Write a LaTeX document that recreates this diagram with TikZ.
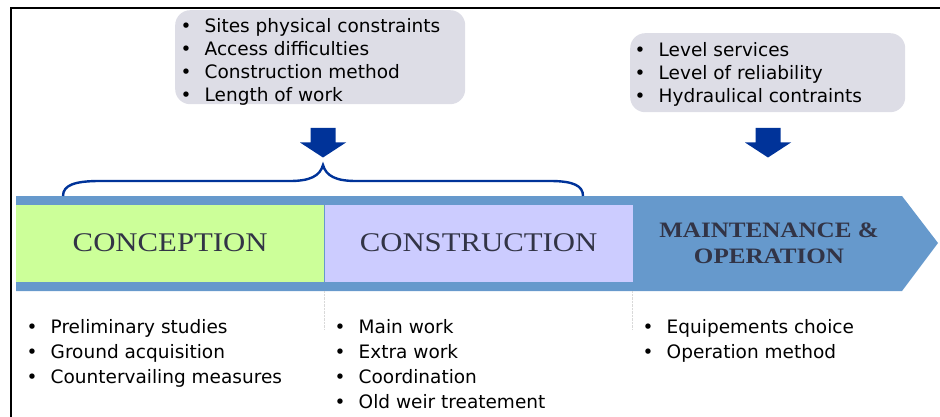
\documentclass[tikz,border=0pt]{standalone}
\usepackage{fontspec}
\setmainfont{Liberation Serif}
\newfontfamily\listfont{DejaVu Sans}
\usetikzlibrary{positioning}

\definecolor{bandblue}{RGB}{102,153,204}
\definecolor{concgreen}{RGB}{204,255,153}
\definecolor{conslav}{RGB}{204,204,255}
\definecolor{infogrey}{RGB}{221,221,230}
\definecolor{darkblue}{RGB}{0,51,153}
\definecolor{headgrey}{RGB}{50,52,70}

\newcommand\bul{\makebox[24pt][l]{\textbullet}}
\newcommand\wide[1]{\scalebox{1.14}[1]{#1}}

\tikzset{
  down arrow/.pic={
    \fill[darkblue] (-12.5,0) -- (12.5,0) -- (12.5,14.5) -- (23,14.5)
      -- (0,29.5) -- (-23,14.5) -- (-12.5,14.5) -- cycle;}
}

\begin{document}
\begin{tikzpicture}[x=1pt,y=-1pt,
 phase/.style={minimum width=308pt,minimum height=77pt,inner sep=0pt,
   font=\fontsize{27}{30}\selectfont,text=headgrey},
 item/.style={anchor=base west,inner sep=0pt,
   font=\listfont\fontsize{18.5}{20}\selectfont},
 info box/.style={fill=infogrey,rounded corners=15pt,anchor=north west,inner sep=0pt}]
 \useasboundingbox (0,0) rectangle (940,417);

 % frame
 \draw[line width=2pt] (11,417) -- (11,8) -- (940,8);

 % the band with its arrow head
 \fill[bandblue] (16,196) -- (902,196) -- (938,243) -- (902,291) -- (16,291) -- cycle;
 \node[phase,fill=concgreen,anchor=west](conc) at (16,243){\wide{CONCEPTION}};
 \node[phase,fill=conslav,right=0pt of conc](cons){\wide{CONSTRUCTION}};
 \node[phase,minimum width=272pt,right=0pt of cons,align=center,
   font=\bfseries\fontsize{22}{26}\selectfont](maint)
   {\wide{MAINTENANCE \&}\\\wide{OPERATION}};
 \foreach \x in {324,632}
   \draw[black!15,densely dotted] (\x,291) -- (\x,330);

 % constraints
 \node[info box,minimum width=290pt,minimum height=94pt](sites) at (175,10){};
 \node[info box,minimum width=275pt,minimum height=79pt](levels) at (630,33){};
 \foreach \t [count=\i] in {Sites physical constraints,Access difficulties,
     Construction method,Length of work}
   \node[item](s\i) at (180.5,{33+23*(\i-1)}){\bul\t};
 \foreach \t [count=\i] in {Level services,Level of reliability,
     Hydraulical contraints}
   \node[item](l\i) at (634.5,{57+23*(\i-1)}){\bul\t};

 \pic at (323,128) {down arrow};
 \pic at (768,128) {down arrow};

 % brace over the first two phases
 \draw[darkblue,line width=2.4pt] (63,196) .. controls (63,185) and (75,181) .. (100,181)
   -- (290,181) .. controls (310,181) and (320,176) .. (323,165)
   .. controls (326,176) and (336,181) .. (356,181) -- (550,181)
   .. controls (574,181) and (583,186) .. (583,196);

 % tasks of each phase
 \foreach \t [count=\i] in {Preliminary studies,Ground acquisition,
     Countervailing measures}
   \node[item](c\i) at (26.5,{333+25*(\i-1)}){\bul\t};
 \foreach \t [count=\i] in {Main work,Extra work,Coordination,
     Old weir treatement}
   \node[item](w\i) at (334.5,{333+25*(\i-1)}){\bul\t};
 \foreach \t [count=\i] in {Equipements choice,Operation method}
   \node[item](m\i) at (642.5,{333+25*(\i-1)}){\bul\t};
\end{tikzpicture}
\end{document}
